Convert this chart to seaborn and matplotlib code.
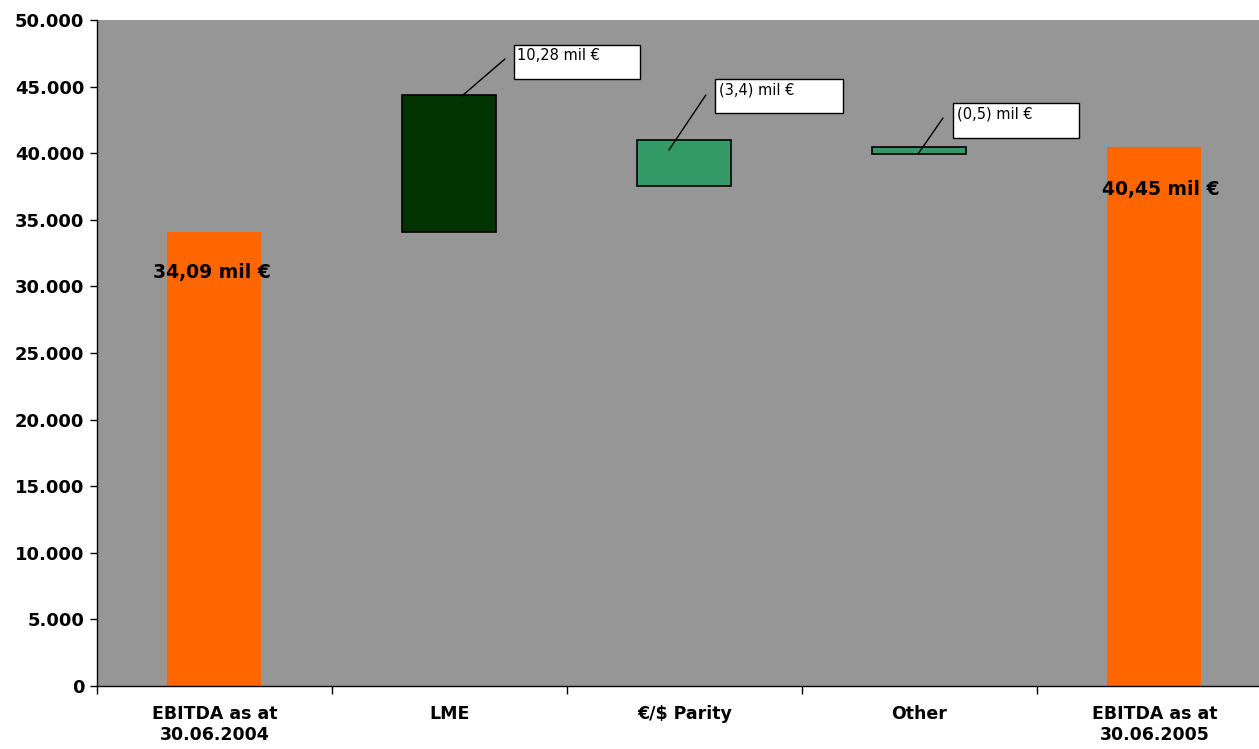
import matplotlib
matplotlib.use("Agg")
import matplotlib.pyplot as plt
import seaborn as sns
import numpy as np
from matplotlib.patches import Rectangle
from matplotlib.ticker import FuncFormatter

# ---- data ----
categories = ["EBITDA as at\n30.06.2004", "LME", "€/$ Parity", "Other", "EBITDA as at\n30.06.2005"]
bar_bottoms = [0, 34090, 37570, 39970, 0]
bar_heights = [34090, 10280, 3400, 500, 40450]
bar_colors = ["#FF6600", "#003300", "#339966", "#339966", "#FF6600"]
delta_labels = ["10,28 mil €", "(3,4) mil €", "(0,5) mil €"]
total_labels = ["34,09 mil €", "40,45 mil €"]
y_ticks = list(range(0, 50001, 5000))

sns.set_theme(style="ticks")
plt.rcParams['font.family'] = ['DejaVu Sans']
plt.rcParams.update({"text.color": "black", "xtick.color": "black", "ytick.color": "black",
                     "axes.labelcolor": "black", "axes.edgecolor": "black"})

fig = plt.figure(figsize=(12.59, 7.49), dpi=100)
ax = fig.add_axes([97/1259, 63/749, 1 - 97/1259, (686-20)/749])
ax.set_facecolor("#969696")

sns.barplot(x=list(range(len(categories))), y=bar_heights, bottom=bar_bottoms,
            width=0.4, color="#FF6600", ax=ax, native_scale=True)
for i, p in enumerate(ax.patches):
    p.set_facecolor(bar_colors[i])
    if bar_colors[i] == "#FF6600":
        p.set_edgecolor("none")
        p.set_linewidth(0)
    else:
        p.set_edgecolor("black")
        p.set_linewidth(1.2)

ax.set_xlim(-0.5, 4.445)
ax.set_ylim(0, 50000)
ax.set_yticks(y_ticks)
ax.yaxis.set_major_formatter(FuncFormatter(lambda v, _: f"{int(v):,}".replace(",", ".")))
ax.set_xticks(np.arange(-0.5, 4.5, 1.0))
ax.set_xticklabels([])
ax.set_xticks(range(len(categories)), minor=True)
ax.set_xticklabels(categories, minor=True, fontsize=12.5, fontweight="bold")
ax.tick_params(axis="x", which="minor", length=0, pad=14)
ax.tick_params(axis="x", which="major", length=6, width=1, color="black", direction="out", bottom=True)
ax.tick_params(axis="y", length=5, width=1, color="black", direction="out", labelsize=13, pad=4, left=True)
for lab in ax.get_yticklabels():
    lab.set_fontweight("bold")
ax.set_xlabel("")
ax.set_ylabel("")

for s in ["top", "right"]:
    ax.spines[s].set_visible(False)
ax.spines["left"].set_linewidth(1)
ax.spines["bottom"].set_linewidth(1)

# annotation boxes (x0, y0, x1, y1) and leader lines
boxes = [(1.274, 45571, 1.811, 48123), (2.130, 43018, 2.674, 45571), (3.143, 41141, 3.679, 43769)]
leaders = [((1.053, 44294), (1.236, 47072)), ((1.934, 40240), (2.091, 44369)), ((2.994, 39940), (3.100, 42643))]
for (x0, y0, x1, y1), txt, (a, b) in zip(boxes, delta_labels, leaders):
    ax.add_patch(Rectangle((x0, y0), x1 - x0, y1 - y0, facecolor="white", edgecolor="black", lw=1, zorder=4))
    ax.text(x0 + 0.015, y1 - 250, txt, ha="left", va="top", fontsize=10.5, zorder=5)
    ax.plot([a[0], b[0]], [a[1], b[1]], color="black", lw=1, zorder=5)

ax.text(-0.01, 31081, total_labels[0], ha="center", va="center", fontsize=13.5, fontweight="bold", zorder=5)
ax.text(4.028, 37312, total_labels[1], ha="center", va="center", fontsize=13.5, fontweight="bold", zorder=5)

fig.savefig("out.png", dpi=100, facecolor="white")
